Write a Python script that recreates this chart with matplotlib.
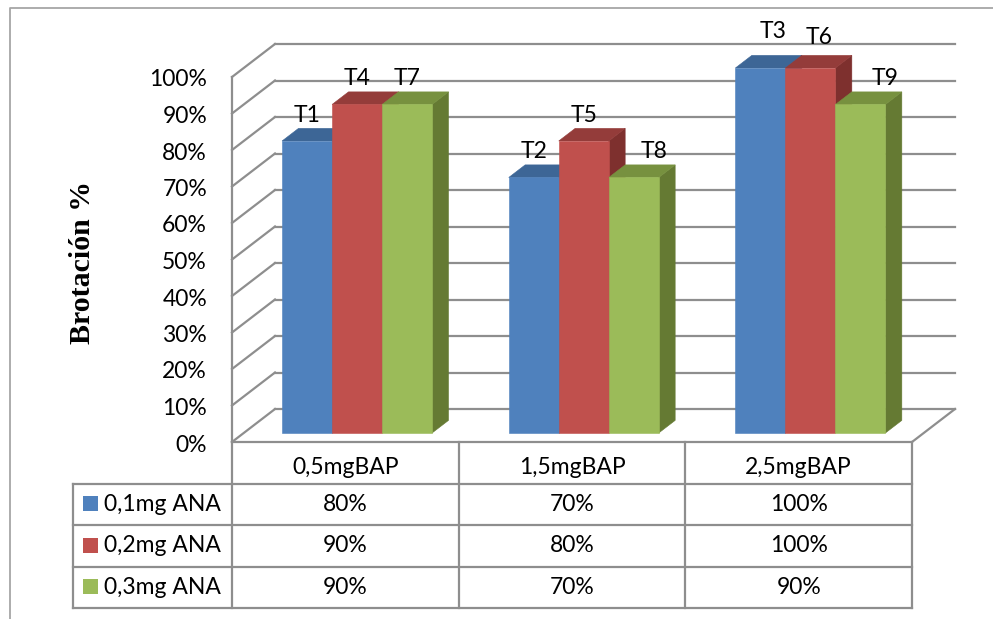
import matplotlib
matplotlib.use("Agg")
import matplotlib.pyplot as plt
from matplotlib.patches import Polygon
from matplotlib.lines import Line2D
from matplotlib.transforms import ScaledTranslation

# ---- data -------------------------------------------------------------
categories = ["0,5mgBAP", "1,5mgBAP", "2,5mgBAP"]
series_names = ["0,1mg ANA", "0,2mg ANA", "0,3mg ANA"]
ana_01 = [80, 70, 100]
ana_02 = [90, 80, 100]
ana_03 = [90, 70, 90]
treatments_01 = ["T1", "T2", "T3"]
treatments_02 = ["T4", "T5", "T6"]
treatments_03 = ["T7", "T8", "T9"]
y_ticks = [0, 10, 20, 30, 40, 50, 60, 70, 80, 90, 100]
y_title = "Brotación %"

series_values = [ana_01, ana_02, ana_03]
series_tags = [treatments_01, treatments_02, treatments_03]

# ---- styling ----------------------------------------------------------
face_front = ["#4F81BD", "#C0504D", "#9BBB59"]
face_top = ["#3D6696", "#943C3A", "#77913F"]
face_side = ["#345682", "#7E302E", "#657A33"]
grid_col = "#8E8E8E"
grid_lw = 1.6
txt_font = ["Lato", "DejaVu Sans"]
txt_size = 16.5

W, H = 993, 619
DPI = 100
fig = plt.figure(figsize=(W / DPI, H / DPI), dpi=DPI)
fig.patch.set_facecolor("white")

# front plane of the 3-D plot area (pixels)
px_left, px_right, px_y0, px_y100 = 232, 912, 442, 77
wall_dx_px, wall_dy_px = 43, 33          # depth of the walls
ax = fig.add_axes([px_left / W, 1 - px_y0 / H,
                   (px_right - px_left) / W, (px_y0 - px_y100) / H])
ncat = len(categories)
ax.set_xlim(-0.5, ncat - 0.5)
ax.set_ylim(0, 100)
ax.axis("off")

col_px = (px_right - px_left) / ncat
val_px = (px_y0 - px_y100) / 100.0
DX = wall_dx_px / col_px
DY = wall_dy_px / val_px


def P(x, y, d):
    """oblique projection: depth d (0 = front, 1 = back wall)"""
    return (x + d * DX, y + d * DY)


def seg(a, b, **kw):
    ax.add_line(Line2D([a[0], b[0]], [a[1], b[1]], color=grid_col,
                       lw=grid_lw, clip_on=False, solid_capstyle="projecting",
                       **kw))


x_lo, x_hi = -0.5, ncat - 0.5
# back wall gridlines and side wall diagonals
for v in y_ticks:
    seg(P(x_lo, v, 1), P(x_hi, v, 1))
    seg(P(x_lo, v, 0), P(x_lo, v, 1))
# front vertical axis, floor front edge and right floor edge
seg(P(x_lo, 0, 0), P(x_lo, 100, 0))
seg(P(x_lo, 0, 0), P(x_hi, 0, 0))
seg(P(x_hi, 0, 0), P(x_hi, 0, 1))

# tick labels
tick_off = ax.transData + ScaledTranslation(-25 / DPI, -3 / DPI, fig.dpi_scale_trans)
for v in y_ticks:
    ax.text(x_lo, v, f"{v}%", ha="right", va="center", fontsize=txt_size,
            family=txt_font, transform=tick_off)

# ---- bars ---------------------------------------------------------------
d0, d1 = 0.273, 0.655
bar_w = 50 / col_px
nser = len(series_values)
tag_nudge = {"T3": (13, 11), "T6": (9, 5), "T8": (20, 0), "T9": (25, 0)}

for c in range(ncat):
    for s in range(nser):
        v = series_values[s][c]
        xl = c - nser * bar_w / 2 + s * bar_w
        xr = xl + bar_w
        fl, fr = P(xl, 0, d0), P(xr, 0, d0)
        tl, tr = P(xl, v, d0), P(xr, v, d0)
        btl, btr = P(xl, v, d1), P(xr, v, d1)
        bbr = P(xr, 0, d1)
        side = Polygon([fr, tr, btr, bbr], closed=True, fc=face_side[s],
                       ec=face_side[s], lw=0.4, clip_on=False, zorder=3)
        top = Polygon([tl, tr, btr, btl], closed=True, fc=face_top[s],
                      ec=face_top[s], lw=0.4, clip_on=False, zorder=3)
        front = Polygon([fl, fr, tr, tl], closed=True, fc=face_front[s],
                        ec=face_front[s], lw=0.4, clip_on=False, zorder=3)
        for p in (side, top, front):
            ax.add_patch(p)
        tag = series_tags[s][c]
        nx, ny = tag_nudge.get(tag, (0, 0))
        off = ax.transData + ScaledTranslation(nx / DPI, (6.5 + ny) / DPI,
                                               fig.dpi_scale_trans)
        ax.text((tl[0] + tr[0]) / 2, btl[1], tag, ha="center", va="baseline",
                fontsize=txt_size, family=txt_font, transform=off, zorder=5)

# ---- data table ---------------------------------------------------------
tab_bottom_px = 608
legend_left_px = 73
tab = fig.add_axes([px_left / W, 1 - tab_bottom_px / H,
                    (px_right - px_left) / W, (tab_bottom_px - px_y0) / H])
nrows = nser + 1
tab.set_xlim(x_lo, x_hi)
tab.set_ylim(nrows, 0)
tab.axis("off")
x_leg = x_lo - (px_left - legend_left_px) / col_px


def tline(xs, ys):
    tab.add_line(Line2D(xs, ys, color=grid_col, lw=grid_lw, clip_on=False,
                        solid_capstyle="projecting"))


for r in range(1, nrows + 1):
    tline([x_leg, x_hi], [r, r])
for c in range(ncat + 1):
    tline([x_lo + c, x_lo + c], [0, nrows])
tline([x_leg, x_leg], [1, nrows])

hdr_off = tab.transData + ScaledTranslation(0, -5 / DPI, fig.dpi_scale_trans)
for c, name in enumerate(categories):
    tab.text(c, 0.5, name, ha="center", va="center", fontsize=txt_size,
             family=txt_font, transform=hdr_off)
for s in range(nser):
    for c in range(ncat):
        tab.text(c, s + 1.5, f"{series_values[s][c]}%", ha="center",
                 va="center", fontsize=txt_size, family=txt_font)
    key_x = x_leg + 17.5 / col_px
    tab.plot([key_x], [s + 1.48], marker="s", ms=10.8, mew=0,
             color=face_front[s], clip_on=False)
    tab.text(x_leg + 31 / col_px, s + 1.5, series_names[s], ha="left",
             va="center", fontsize=txt_size, family=txt_font)

# ---- axis title and chart border ----------------------------------------
fig.text(82 / W, 1 - 263 / H, y_title, rotation=90, ha="center", va="center",
         fontsize=21.5, fontweight="bold", family=["Liberation Serif", "DejaVu Serif"])
fig.add_artist(Line2D([10 / W, 10 / W, 1.0], [0, 1 - 8 / H, 1 - 8 / H],
                      transform=fig.transFigure, color="#A6A6A6", lw=1.3))

fig.savefig("out.png", dpi=DPI, facecolor="white")
